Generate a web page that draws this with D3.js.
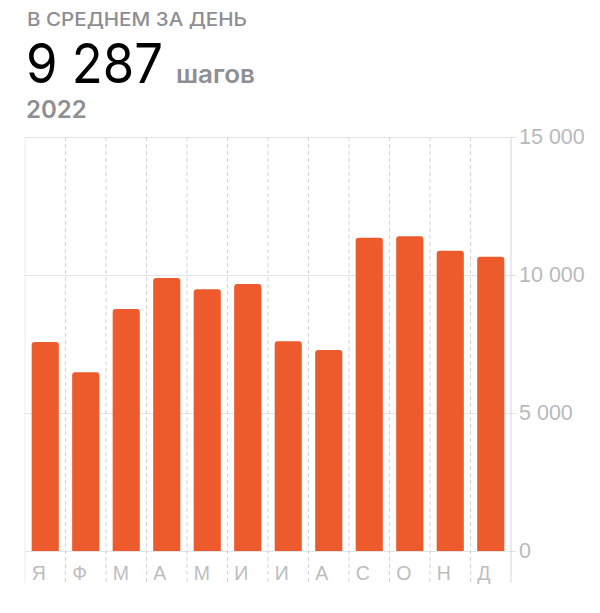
<!DOCTYPE html>
<html lang="ru">
<head>
    <meta charset="UTF-8">
    <title>Шаги 2022</title>
    <script src="https://d3js.org/d3.v7.min.js"></script>
    <style>
        body { margin: 0; background: #fff; font-family: Inter, "Noto Sans", sans-serif; }
        .grid line { stroke: #e4e4e4; }
        .grid path { display: none; }
        .y-axis text { fill: #b9b9bb; font-size: 21.5px; font-weight: 300; }
        .x-axis text { fill: #bdbdbf; font-size: 19.5px; font-weight: 300; }
    </style>
</head>
<body>
<script>
    // данные
    const months = ["Я", "Ф", "М", "А", "М", "И", "И", "А", "С", "О", "Н", "Д"];
    const steps = [7570, 6480, 8770, 9890, 9480, 9670, 7600, 7280, 11350, 11400, 10880, 10660];
    const yTicks = [0, 5000, 10000, 15000];
    const titleText = "В СРЕДНЕМ ЗА ДЕНЬ";
    const avgText = "9 287";
    const unitText = "шагов";
    const yearText = "2022";

    const width = 600, height = 613;
    const plot = {left: 25, right: 511, top: 137, bottom: 551, labelsBottom: 583};

    const svg = d3.select("body").append("svg")
        .attr("width", width)
        .attr("height", height);

    // заголовок
    svg.append("text").attr("x", 27).attr("y", 26)
        .attr("fill", "#8e8e93").attr("font-size", 18.5).attr("font-weight", 500)
        .attr("textLength", 220).attr("lengthAdjust", "spacingAndGlyphs")
        .text(titleText);
    const big = svg.append("text").attr("x", 26).attr("y", 83)
        .attr("fill", "#000").attr("font-size", 55).attr("font-weight", 400)
        .attr("textLength", 137).attr("lengthAdjust", "spacingAndGlyphs")
        .text(avgText);
    svg.append("text").attr("x", 176).attr("y", 83)
        .attr("fill", "#8e8e93").attr("font-size", 25).attr("font-weight", 600)
        .attr("textLength", 79).attr("lengthAdjust", "spacingAndGlyphs")
        .text(unitText);
    svg.append("text").attr("x", 26).attr("y", 118)
        .attr("fill", "#8e8e93").attr("font-size", 24).attr("font-weight", 600)
        .text(yearText);

    // шкалы
    const x = d3.scaleBand()
        .domain(d3.range(months.length))
        .range([plot.left, plot.right])
        .paddingInner(0.33)
        .paddingOuter(0.165);
    const band = (plot.right - plot.left) / months.length;

    const y = d3.scaleLinear()
        .domain([0, 15000])
        .range([plot.bottom, plot.top]);

    // горизонтальная сетка
    svg.append("g")
        .attr("class", "grid")
        .attr("transform", "translate(" + plot.left + ",0)")
        .call(d3.axisRight(y).tickValues(yTicks).tickSize(plot.right - plot.left + 6).tickFormat(""));

    // вертикальные пунктирные линии
    svg.append("g").selectAll("line")
        .data(d3.range(1, months.length))
        .enter().append("line")
        .attr("x1", i => plot.left + i * band)
        .attr("x2", i => plot.left + i * band)
        .attr("y1", plot.top)
        .attr("y2", plot.labelsBottom)
        .attr("stroke", "#d4d4d6")
        .attr("stroke-width", 1)
        .attr("stroke-dasharray", "4,3");

    // рамка слева и справа
    [plot.left, plot.right].forEach((px, k) => {
        svg.append("line")
            .attr("x1", px).attr("x2", px)
            .attr("y1", plot.top).attr("y2", plot.labelsBottom)
            .attr("stroke", k === 0 ? "#ececec" : "#d6d6d8");
    });

    // столбцы со скруглённым верхом
    const r = 3;
    svg.append("g").selectAll("path")
        .data(steps)
        .enter().append("path")
        .attr("fill", "#ed5a2c")
        .attr("d", (d, i) => {
            const x0 = x(i), x1 = x(i) + x.bandwidth();
            const top = y(d), bot = y(0);
            return "M" + x0 + "," + bot +
                "V" + (top + r) +
                "Q" + x0 + "," + top + " " + (x0 + r) + "," + top +
                "H" + (x1 - r) +
                "Q" + x1 + "," + top + " " + x1 + "," + (top + r) +
                "V" + bot + "Z";
        });

    // подписи оси Y
    const yAxis = svg.append("g")
        .attr("class", "y-axis")
        .attr("transform", "translate(" + plot.right + ",0)")
        .call(d3.axisRight(y).tickValues(yTicks).tickSize(0).tickPadding(8)
            .tickFormat(d => d3.format(",")(d).replace(",", " ")));
    yAxis.select(".domain").remove();

    // подписи месяцев
    const xAxis = svg.append("g")
        .attr("class", "x-axis")
        .attr("transform", "translate(0," + plot.bottom + ")")
        .call(d3.axisBottom(x).tickSize(0).tickFormat(i => months[i]));
    xAxis.select(".domain").remove();
    xAxis.selectAll("text")
        .attr("text-anchor", "start")
        .attr("x", -x.bandwidth() / 2)
        .attr("dy", null)
        .attr("y", 29);
</script>
</body>
</html>
